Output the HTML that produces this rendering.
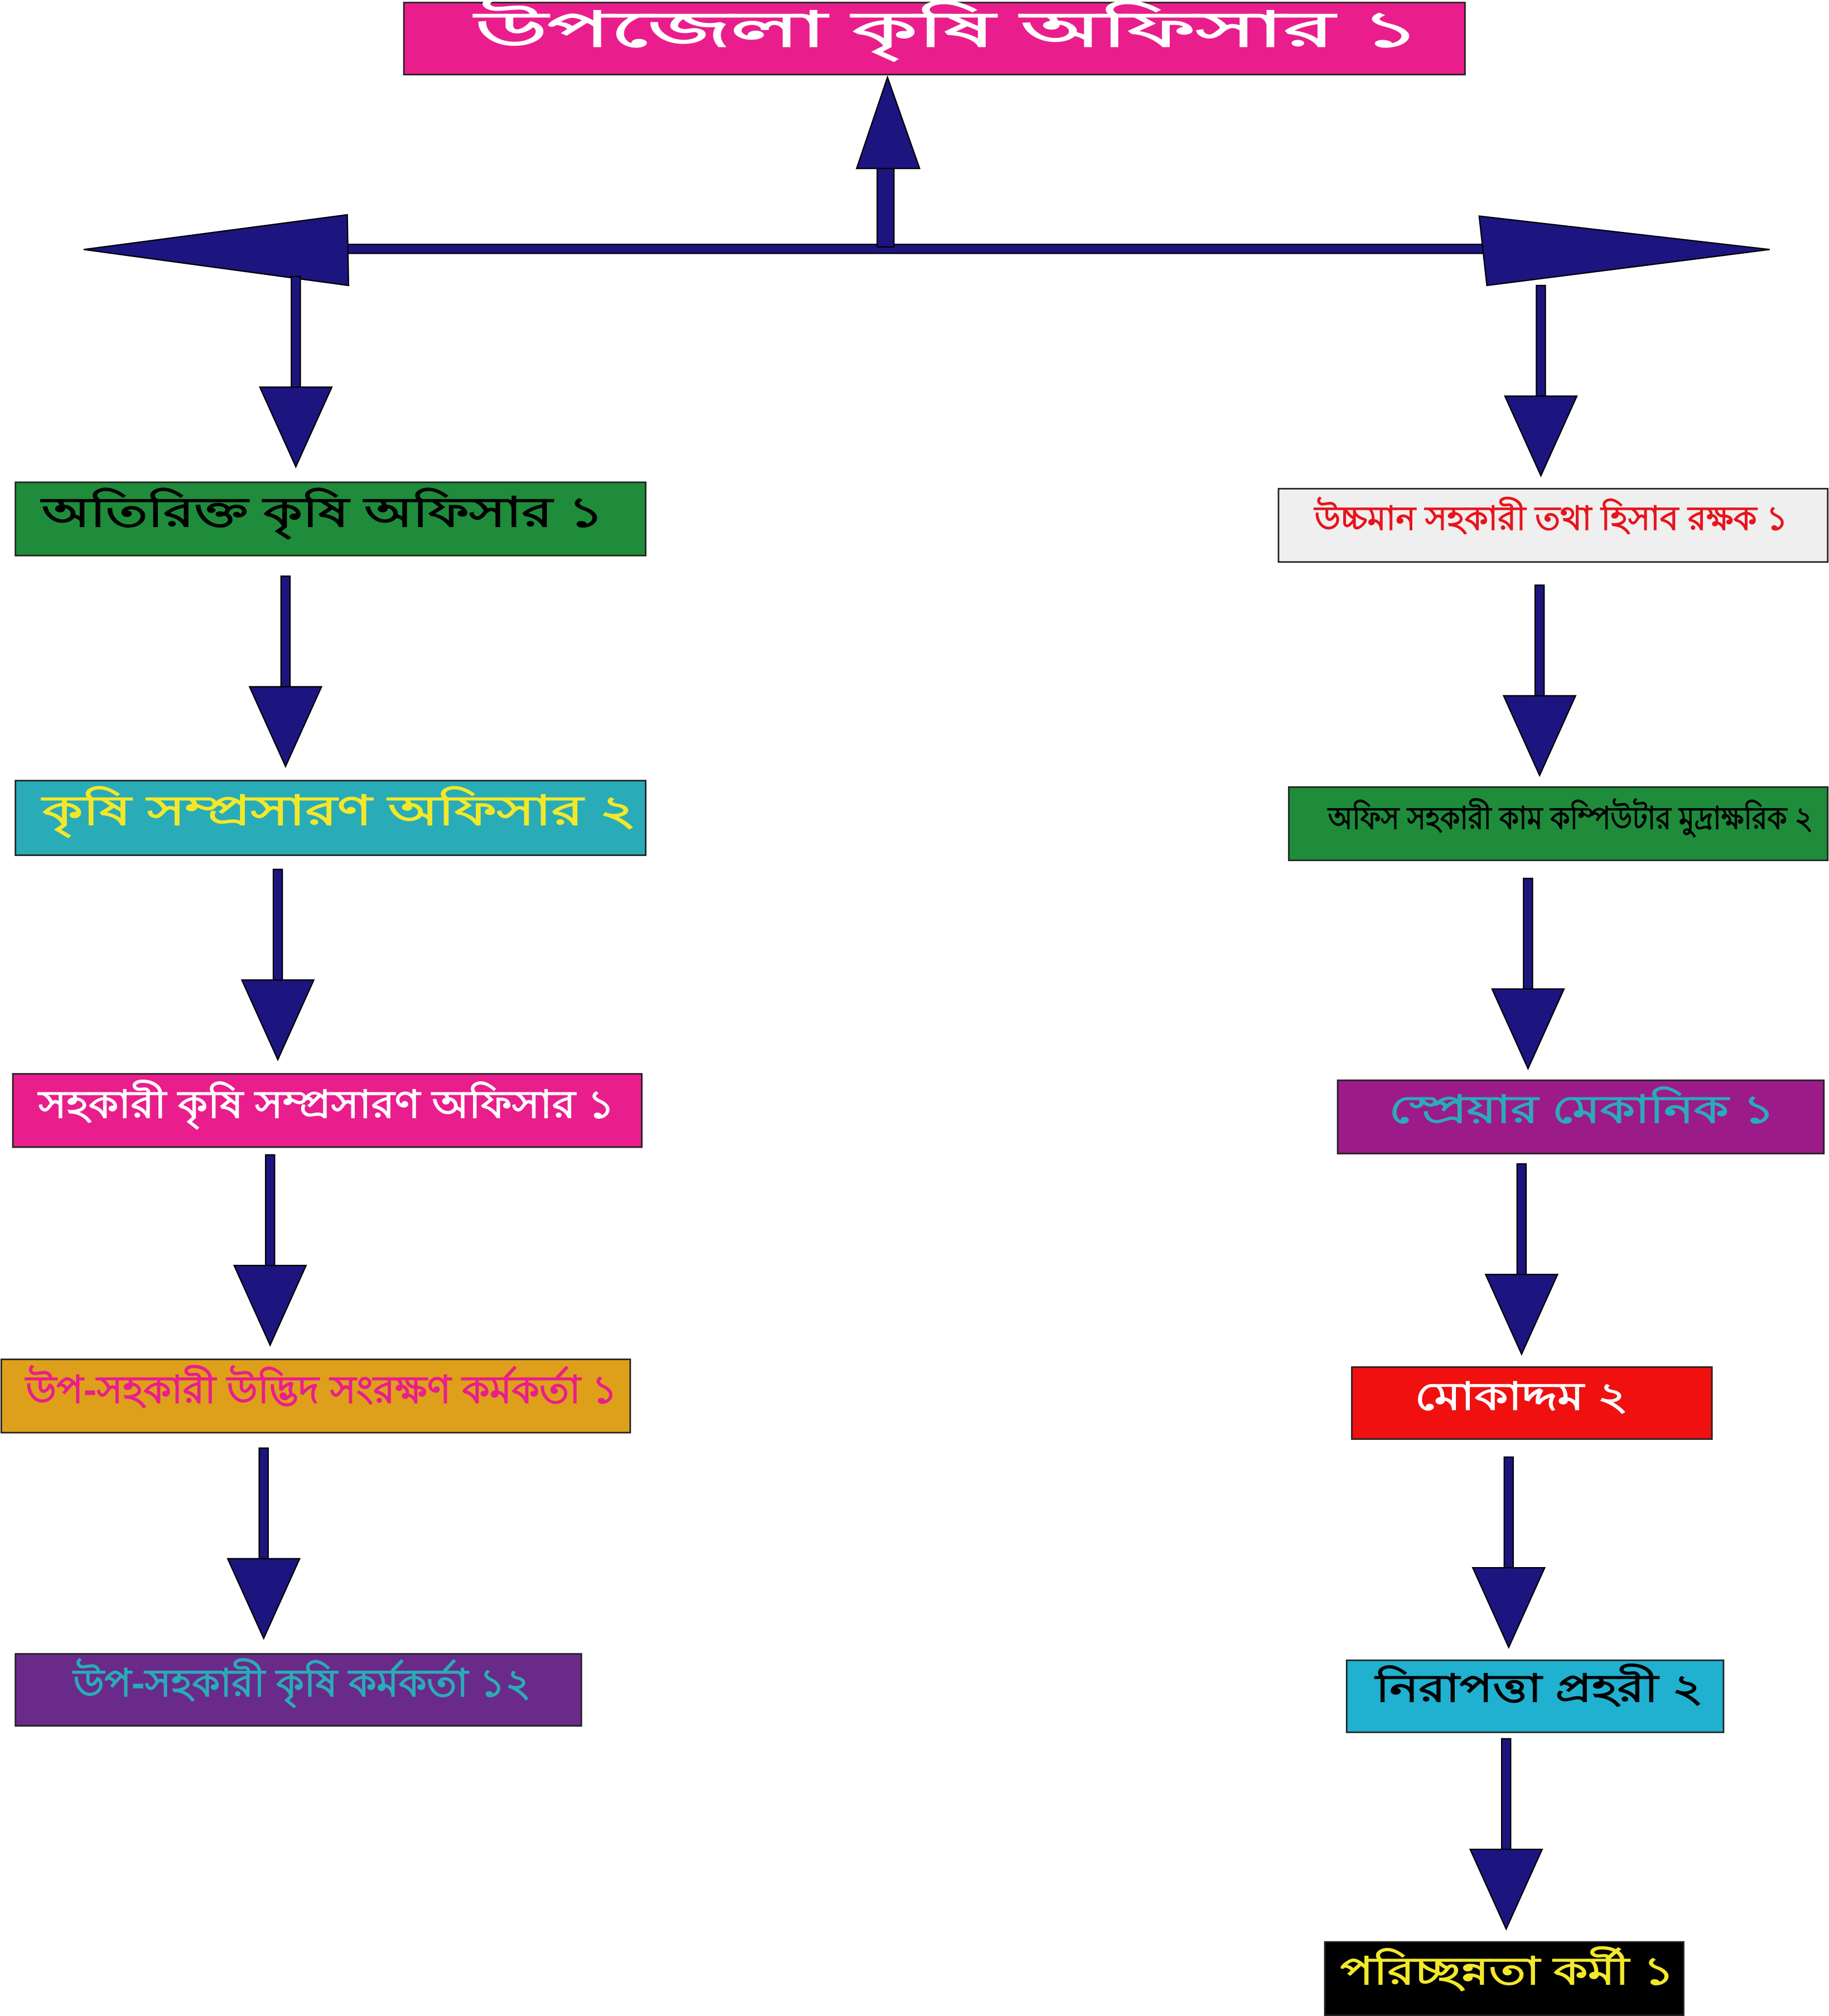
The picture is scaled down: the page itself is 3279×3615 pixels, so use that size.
<!DOCTYPE html>
<html><head><meta charset="utf-8"><style>
html,body{margin:0;padding:0;background:#fff;}
svg{display:block;}
text{font-family:"Liberation Sans","DejaVu Sans",sans-serif;font-weight:bold;dominant-baseline:middle;text-anchor:middle;}
</style></head><body>
<svg width="3279" height="3615" viewBox="0 0 1422 1567.6" preserveAspectRatio="none" xmlns="http://www.w3.org/2000/svg">
<defs>
<g id="dn">
<rect x="-3.5" y="0" width="7" height="86" fill="#1c1580" stroke="#000" stroke-width="1"/>
<polygon points="-28,86 28,86 0,148" fill="#1c1580" stroke="#000" stroke-width="1"/>
</g>
</defs>
<rect x="314" y="2" width="825" height="56" fill="#e91e8c" stroke="#222" stroke-width="1.2"/>
<text x="737" y="26" fill="#fff" font-size="38" textLength="735" lengthAdjust="spacingAndGlyphs">উপজেলা কৃষি অফিসার ১</text>
<rect x="245" y="190" width="930" height="7" rx="3.5" fill="#1c1580" stroke="#000" stroke-width="1"/>
<polygon points="65,194 270,167 271,222" fill="#1c1580" stroke="#000" stroke-width="1"/>
<polygon points="1376,194 1150,168 1156,222" fill="#1c1580" stroke="#000" stroke-width="1"/>
<rect x="682" y="122" width="13" height="70" fill="#1c1580" stroke="#000" stroke-width="1"/>
<polygon points="666,131 715,131 690,60" fill="#1c1580" stroke="#000" stroke-width="1"/>
<use href="#dn" x="230" y="215"/>
<use href="#dn" x="222" y="448"/>
<use href="#dn" x="216" y="676"/>
<use href="#dn" x="210" y="898"/>
<use href="#dn" x="205" y="1126"/>
<use href="#dn" x="1198" y="222"/>
<use href="#dn" x="1197" y="455"/>
<use href="#dn" x="1188" y="683"/>
<use href="#dn" x="1183" y="905"/>
<use href="#dn" x="1173" y="1133"/>
<use href="#dn" x="1171" y="1352"/>
<rect x="12" y="375" width="490" height="57" fill="#1e8c3a" stroke="#222" stroke-width="1.2"/>
<text x="251" y="401" fill="#000" font-size="32" textLength="437" lengthAdjust="spacingAndGlyphs">অতিরিক্ত কৃষি অফিসার ১</text>
<rect x="12" y="607" width="490" height="58" fill="#2aabb8" stroke="#222" stroke-width="1.2"/>
<text x="264" y="633" fill="#f2e82a" font-size="32" textLength="462" lengthAdjust="spacingAndGlyphs">কৃষি সম্প্রসারণ অফিসার ২</text>
<rect x="10" y="835" width="489" height="57" fill="#e91e8c" stroke="#222" stroke-width="1.2"/>
<text x="254" y="861" fill="#fff" font-size="30" textLength="448" lengthAdjust="spacingAndGlyphs">সহকারী কৃষি সম্প্রসারণ অফিসার ১</text>
<rect x="1" y="1057" width="489" height="57" fill="#dea01a" stroke="#222" stroke-width="1.2"/>
<text x="250" y="1083" fill="#e91e8c" font-size="30" textLength="460" lengthAdjust="spacingAndGlyphs">উপ-সহকারী উদ্ভিদ সংরক্ষণ কর্মকর্তা ১</text>
<rect x="12" y="1286" width="440" height="56" fill="#6a2a8a" stroke="#222" stroke-width="1.2"/>
<text x="235" y="1311" fill="#2aabb8" font-size="30" textLength="356" lengthAdjust="spacingAndGlyphs">উপ-সহকারী কৃষি কর্মকর্তা ১২</text>
<rect x="994" y="380" width="427" height="57" fill="#efefef" stroke="#222" stroke-width="1.2"/>
<text x="1206" y="405" fill="#e8141c" font-size="26" textLength="368" lengthAdjust="spacingAndGlyphs">উচ্চমান সহকারী তথা হিসাব রক্ষক ১</text>
<rect x="1002" y="612" width="419" height="57" fill="#1e8c3a" stroke="#222" stroke-width="1.2"/>
<text x="1221" y="638" fill="#000" font-size="24" textLength="377" lengthAdjust="spacingAndGlyphs">অফিস সহকারী কাম কম্পিউটার মুদ্রাক্ষরিক ২</text>
<rect x="1040" y="840" width="378" height="57" fill="#9c1a8a" stroke="#222" stroke-width="1.2"/>
<text x="1230" y="865" fill="#2aabb8" font-size="30" textLength="300" lengthAdjust="spacingAndGlyphs">স্প্রেয়ার মেকানিক ১</text>
<rect x="1051" y="1063" width="280" height="56" fill="#f01010" stroke="#222" stroke-width="1.2"/>
<text x="1183" y="1088" fill="#fff" font-size="30" textLength="166" lengthAdjust="spacingAndGlyphs">মোকাদ্দম ২</text>
<rect x="1047" y="1291" width="293" height="56" fill="#20b0d0" stroke="#222" stroke-width="1.2"/>
<text x="1197" y="1315" fill="#000" font-size="30" textLength="255" lengthAdjust="spacingAndGlyphs">নিরাপত্তা প্রহরী ২</text>
<rect x="1030" y="1510" width="279" height="57" fill="#000" stroke="#222" stroke-width="1.2"/>
<text x="1172" y="1535" fill="#f2e82a" font-size="30" textLength="260" lengthAdjust="spacingAndGlyphs">পরিচ্ছন্নতা কর্মী ১</text>
</svg>
</body></html>
